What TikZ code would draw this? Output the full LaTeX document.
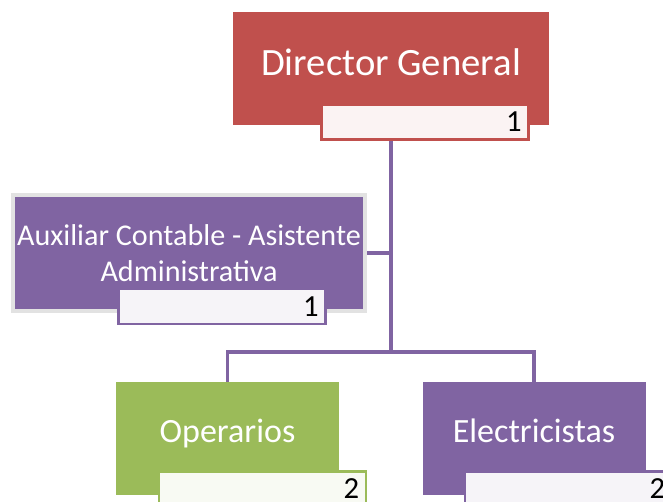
\documentclass[tikz,border=0pt]{standalone}
\usepackage{fontspec}
\setmainfont{Carlito}
\usetikzlibrary{positioning}
\definecolor{dgred}{HTML}{C0504D}
\definecolor{orgpurple}{HTML}{8064A2}
\definecolor{orggreen}{HTML}{9BBB59}
\definecolor{edgegray}{HTML}{E2E2E2}

\begin{document}
\begin{tikzpicture}[x=0.75pt,y=-0.75pt,
    post/.style={fill=#1,draw=none,text=white,inner sep=0pt,align=center,
      minimum width=167.25pt,minimum height=84.75pt},
    count/.style={draw=#1,fill=#1!7,line width=1.9pt,text=black,inner ysep=0pt,
      inner xsep=5pt,text width=145pt,align=right,minimum height=26.25pt,
      font=\fontsize{23}{26}\selectfont},
    link/.style={draw=orgpurple,line width=2.6pt}]
    \useasboundingbox (0,0) rectangle (663,502);
    % puestos
    \node[post=dgred,minimum width=237pt,font=\fontsize{29}{34}\selectfont](dg) at (391,68.5){Director General\rule[-9pt]{0pt}{0pt}};
    \node[post=orgpurple,draw=edgegray,line width=3pt,minimum width=264pt,minimum height=87pt,
      font=\fontsize{22.6}{27}\selectfont](aux) at (189,253){Auxiliar Contable - Asistente\\Administrativa};
    \node[post=orggreen,font=\fontsize{25.5}{30}\selectfont](ope) at (227.5,438.5){Operarios\rule[-12pt]{0pt}{0pt}};
    \node[post=orgpurple,font=\fontsize{25.5}{30}\selectfont](ele) at (534,438.5){Electricistas\rule[-12pt]{0pt}{0pt}};
    % lineas
    \coordinate(bus) at (392,352);
    \draw[link](dg.south)--(dg.south|-bus);
    \draw[link](dg.south|-aux.east)--(aux.east);
    \draw[link](ope.north)|-(bus)-|(ele.north);
    % cantidades
    \node[count=dgred](dgn) at (425,122){1};
    \node[count=orgpurple](auxn) at (222,306.5){1};
    \node[count=orggreen](open) at (262.5,489){2};
    \node[count=orgpurple](elen) at (568.5,489){2};
\end{tikzpicture}
\end{document}
